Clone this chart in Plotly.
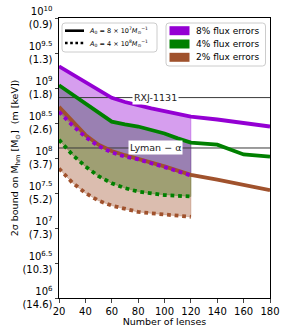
import plotly.graph_objects as go

# ---- data (log10 of M_hm) ----
n_full = [20, 30, 40, 50, 60, 70, 80, 90, 100, 110, 120, 140, 160, 180]
n_short = [20, 30, 40, 50, 60, 70, 80, 90, 100, 110, 120]

purple_solid = [9.31, 9.20, 9.09, 8.97, 8.86, 8.80, 8.75, 8.71, 8.67, 8.63, 8.59, 8.55, 8.50, 8.45]
green_solid = [9.04, 8.91, 8.78, 8.65, 8.52, 8.48, 8.45, 8.40, 8.35, 8.28, 8.22, 8.19, 8.05, 8.02]
brown_solid = [8.73, 8.52, 8.33, 8.19, 8.10, 8.04, 7.99, 7.93, 7.88, 7.82, 7.76, 7.69, 7.61, 7.54]

purple_dot = [8.66, 8.47, 8.30, 8.17, 8.08, 8.02, 7.98, 7.93, 7.87, 7.81, 7.75]
green_dot = [8.26, 8.05, 7.88, 7.74, 7.64, 7.57, 7.52, 7.49, 7.47, 7.46, 7.45]
brown_dot = [7.85, 7.65, 7.50, 7.39, 7.32, 7.27, 7.23, 7.21, 7.19, 7.17, 7.16]

rxj_level = 8.863
lyman_level = 8.143

ytick_exp = [6, 6.5, 7, 7.5, 8, 8.5, 9, 9.5, 10]
ytick_exp_txt = ["6", "6.5", "7", "7.5", "8", "8.5", "9", "9.5", "10"]
ytick_kev = ["14.6", "10.3", "7.3", "5.2", "3.7", "2.6", "1.8", "1.3", "0.9"]
xticks = [20, 40, 60, 80, 100, 120, 140, 160, 180]

legend_styles = ["<i>A</i><sub>0</sub> = 8 × 10<sup>7</sup><i>M</i><sub>⊙</sub><sup>−1</sup>",
                 "<i>A</i><sub>0</sub> = 4 × 10<sup>8</sup><i>M</i><sub>⊙</sub><sup>−1</sup>"]
legend_errors = ["8% flux errors", "4% flux errors", "2% flux errors"]

PURPLE = "#9400D3"
GREEN = "#008000"
BROWN = "#A0522D"
FILL_A = 0.38

def rgba(hexc, a):
    h = hexc.lstrip("#")
    return f"rgba({int(h[0:2],16)},{int(h[2:4],16)},{int(h[4:6],16)},{a})"

def p10(a):
    return [10 ** v for v in a]

# plot area in px
PL, PT, PW, PH = 59, 18, 211, 280
def xp(px):
    return (px - PL) / PW
def yp(py):
    return 1 - (py - PT) / PH

fig = go.Figure()

# bands (green first, then purple, then brown)
for col, top, bot in [(GREEN, green_solid, green_dot), (PURPLE, purple_solid, purple_dot), (BROWN, brown_solid, brown_dot)]:
    k = len(n_short)
    xs = n_short + n_short[::-1]
    ys = p10(top[:k]) + p10(bot[::-1])
    fig.add_trace(go.Scatter(x=xs, y=ys, fill="toself", fillcolor=rgba(col, FILL_A),
                             line=dict(width=0.8, color=rgba(col, FILL_A)), mode="lines",
                             showlegend=False, hoverinfo="skip"))

# reference lines
for lvl in [rxj_level, lyman_level]:
    fig.add_trace(go.Scatter(x=[20, 180], y=[10 ** lvl, 10 ** lvl], mode="lines",
                             line=dict(color="#3a3a3a", width=1), showlegend=False))

LW = 3.8
DOT = "3.8px,3.8px"
fig.add_trace(go.Scatter(x=n_full, y=p10(brown_solid), mode="lines", line=dict(color=BROWN, width=LW), showlegend=False))
fig.add_trace(go.Scatter(x=n_full, y=p10(green_solid), mode="lines", line=dict(color=GREEN, width=LW), showlegend=False))
fig.add_trace(go.Scatter(x=n_full, y=p10(purple_solid), mode="lines", line=dict(color=PURPLE, width=LW), showlegend=False))
fig.add_trace(go.Scatter(x=n_short, y=p10(brown_dot), mode="lines", line=dict(color=BROWN, width=LW, dash=DOT), showlegend=False))
fig.add_trace(go.Scatter(x=n_short, y=p10(green_dot), mode="lines", line=dict(color=GREEN, width=LW, dash=DOT), showlegend=False))
fig.add_trace(go.Scatter(x=n_short, y=p10(purple_dot), mode="lines", line=dict(color=PURPLE, width=LW, dash=DOT), showlegend=False))

# labels on reference lines
for lvl, txt in [(rxj_level, "RXJ-1131"), (lyman_level, "Lyman − α")]:
    fig.add_annotation(x=93, y=lvl, xref="x", yref="y", text=txt, showarrow=False,
                       bgcolor="white", font=dict(size=9.5, color="#222"), borderpad=1)

shapes = []
def rounded_box(x0, y0, x1, y1, r=3):
    X0, X1 = xp(x0), xp(x1)
    Y0, Y1 = yp(y0), yp(y1)  # Y0 top (larger), Y1 bottom
    rx, ry = r / PW, r / PH
    path = (f"M{X0+rx},{Y0} L{X1-rx},{Y0} Q{X1},{Y0} {X1},{Y0-ry} L{X1},{Y1+ry} "
            f"Q{X1},{Y1} {X1-rx},{Y1} L{X0+rx},{Y1} Q{X0},{Y1} {X0},{Y1+ry} L{X0},{Y0-ry} Q{X0},{Y0} {X0+rx},{Y0} Z")
    return dict(type="path", xref="paper", yref="paper", path=path,
                fillcolor="rgba(255,255,255,0.85)", line=dict(color="#cccccc", width=1), layer="above")

# legend 1 (line styles)
shapes.append(rounded_box(62, 23, 157, 52))
rows1 = [30.7, 43.0]
for i, (row, lab) in enumerate(zip(rows1, legend_styles)):
    shapes.append(dict(type="line", xref="paper", yref="paper", x0=xp(65), x1=xp(84), y0=yp(row), y1=yp(row),
                       line=dict(color="black", width=2.6, dash="solid" if i == 0 else "2.6px,2.6px"), layer="above"))
    fig.add_annotation(x=xp(88), y=yp(row), xref="paper", yref="paper", text=lab, showarrow=False,
                       xanchor="left", yanchor="middle", font=dict(size=6.5), borderpad=0)

# legend 2 (colours)
shapes.append(rounded_box(166, 23, 265.5, 66))
rows2 = [30.7, 44.0, 57.3]
for row, col, lab in zip(rows2, [PURPLE, GREEN, BROWN], legend_errors):
    shapes.append(dict(type="rect", xref="paper", yref="paper", x0=xp(169.5), x1=xp(189.5),
                       y0=yp(row - 4.5), y1=yp(row + 4.5), fillcolor=col, line=dict(width=0), layer="above"))
    fig.add_annotation(x=xp(195), y=yp(row), xref="paper", yref="paper", text=lab, showarrow=False,
                       xanchor="left", yanchor="middle", font=dict(size=9), borderpad=0)

ytxt = [f"10<sup>{e}</sup><br>({k})" for e, k in zip(ytick_exp_txt, ytick_kev)]

fig.update_layout(
    width=287, height=335,
    margin=dict(l=PL, r=287 - PL - PW, t=PT, b=335 - PT - PH),
    paper_bgcolor="white", plot_bgcolor="white",
    showlegend=False,
    shapes=shapes,
    font=dict(family="DejaVu Sans", size=10, color="black"),
    xaxis=dict(range=[20, 180], tickvals=xticks, ticks="outside", ticklen=3.5, tickwidth=1,
               showline=True, linecolor="black", linewidth=1, mirror=True, showgrid=False,
               zeroline=False, automargin=False,
               title=dict(text="Number of lenses", font=dict(size=9.5), standoff=1)),
    yaxis=dict(type="log", range=[6, 10], tickvals=[10 ** e for e in ytick_exp], ticktext=ytxt,
               ticks="outside", ticklen=3.5, tickwidth=1, showline=True, linecolor="black",
               linewidth=1, mirror=True, showgrid=False, zeroline=False, automargin=False,
               title=dict(text="2σ bound on M<sub>hm</sub> [M<sub>⊙</sub>]  (m [keV])", font=dict(size=9.5), standoff=2)),
)

fig.write_html("out.html", config={"displayModeBar": False},
               post_script="document.body.style.margin='0';document.body.style.overflow='hidden';")
